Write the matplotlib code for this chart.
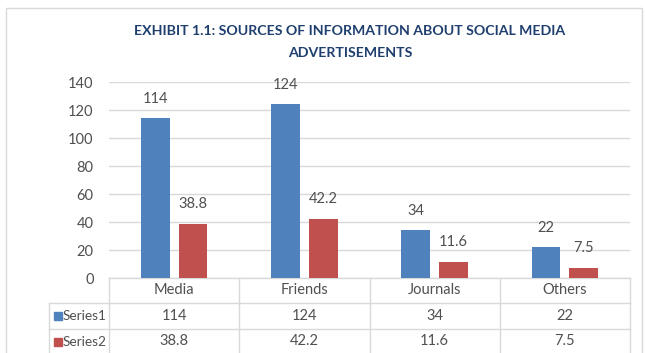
import matplotlib.pyplot as plt
from matplotlib.patches import Rectangle
from matplotlib.transforms import blended_transform_factory

# values for the chart and its data table
categories = ['Media', 'Friends', 'Journals', 'Others']
series_names = ['Series1', 'Series2']
series1 = [114, 124, 34, 22]
series2 = [38.8, 42.2, 11.6, 7.5]
series1_labels = ['114', '124', '34', '22']
series2_labels = ['38.8', '42.2', '11.6', '7.5']
yticks = [0, 20, 40, 60, 80, 100, 120, 140]

blue = '#4F81BD'
red = '#C0504D'
grid_col = '#D9D9D9'
text_col = '#505050'
fam = ['Lato', 'DejaVu Sans']

W, H = 645, 353
fig = plt.figure(figsize=(W / 100, H / 100), dpi=100)

def fy(py):
    # pixel row -> figure fraction
    return 1 - py / H

# outer chart border
fig.patches.append(Rectangle((6 / W, fy(H + 5)), 636 / W, (H - 8 + 5) / H,
                             transform=fig.transFigure, fill=False,
                             edgecolor=grid_col, linewidth=1))

ax = fig.add_axes([109 / W, fy(278), (630 - 109) / W, (278 - 82) / H])
ax.set_xlim(-0.5, 3.5)
ax.set_ylim(0, 140)

x = range(len(categories))
w = 0.22
off = 0.145
b1 = ax.bar([i - off for i in x], series1, width=w, color=blue, zorder=3)
b2 = ax.bar([i + off for i in x], series2, width=w, color=red, zorder=3)

for bars, labs in ((b1, series1_labels), (b2, series2_labels)):
    for rect, lab in zip(bars, labs):
        ax.annotate(lab, (rect.get_x() + rect.get_width() / 2, rect.get_height()),
                    xytext=(0, 9), textcoords='offset points', ha='center',
                    va='bottom', fontsize=10.5, color=text_col, family=fam)

ax.set_yticks(yticks)
ax.set_yticklabels([str(t) for t in yticks], family=fam, fontsize=10.5, color=text_col)
ax.tick_params(axis='y', length=0, pad=11)
ax.set_xticks([])
ax.yaxis.grid(True, color=grid_col, linewidth=1, zorder=0)
for s in ax.spines.values():
    s.set_visible(False)

# data table under the plot
tr = blended_transform_factory(ax.transData, fig.transFigure)
rows = [278, 303, 329, 355]
leg_x = -0.96
line_kw = dict(color=grid_col, linewidth=1, transform=tr, clip_on=False)

ax.plot([-0.5, 3.5], [fy(rows[0])] * 2, **line_kw)
for r in rows[1:]:
    ax.plot([leg_x, 3.5], [fy(r)] * 2, **line_kw)
for i in range(len(categories) + 1):
    ax.plot([i - 0.5] * 2, [fy(rows[0]), fy(rows[-1])], **line_kw)
ax.plot([leg_x] * 2, [fy(rows[1]), fy(rows[-1])], **line_kw)

cell_kw = dict(transform=tr, ha='center', va='center', fontsize=10.5,
               color=text_col, family=fam, clip_on=False)
for i, cat in enumerate(categories):
    ax.text(i, fy((rows[0] + rows[1]) / 2), cat, **cell_kw)
    ax.text(i, fy((rows[1] + rows[2]) / 2), series1_labels[i], **cell_kw)
    ax.text(i, fy((rows[2] + rows[3]) / 2 - 1), series2_labels[i], **cell_kw)

for k, (name, col) in enumerate(zip(series_names, (blue, red))):
    yc = fy((rows[k + 1] + rows[k + 2]) / 2)
    ax.plot([leg_x + 0.065], [yc], marker='s', markersize=5.5, color=col,
            transform=tr, clip_on=False)
    ax.text(leg_x + 0.105, yc, name, transform=tr, ha='left', va='center',
            fontsize=9.8, color=text_col, family=fam, clip_on=False)

fig.text(350 / W, fy(42), 'EXHIBIT 1.1: SOURCES OF INFORMATION ABOUT SOCIAL MEDIA\nADVERTISEMENTS',
         ha='center', va='center', fontsize=10.2, fontweight='bold',
         color='#1F3F6E', family=fam, linespacing=1.95)

fig.savefig('out.png', dpi=100)
